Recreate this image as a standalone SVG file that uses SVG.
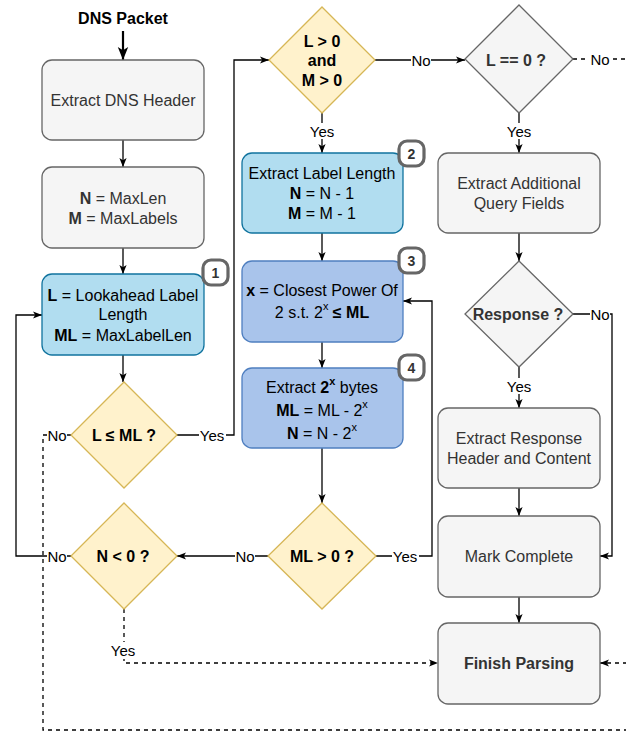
<svg xmlns="http://www.w3.org/2000/svg" width="626" height="734" viewBox="0 0 626 734">
<style>
text{font-family:"Liberation Sans",Arial,Helvetica,sans-serif;font-size:16px;text-anchor:middle;dominant-baseline:central}
.g{fill:#f5f5f5;stroke:#666;stroke-width:1.3}
.gt{fill:#333}
.y{fill:#fff2cc;stroke:#d6b656;stroke-width:1.3}
.lb{fill:#b1ddf0;stroke:#10739e;stroke-width:1.3}
.db{fill:#a9c4eb;stroke:#4f7fc0;stroke-width:1.3}
.b{font-weight:bold}
.e{fill:none;stroke:#000;stroke-width:1.3}
.d{stroke-dasharray:4 4}
.lab{font-size:15px;fill:#000}
.bg{fill:#fff}
.badge{fill:#fff;stroke:#666;stroke-width:3.2}
.bn{font-size:14px;font-weight:bold;fill:#333}
</style>
<defs>
<marker id="a" viewBox="0 0 10 10" refX="10" refY="5" markerWidth="9" markerHeight="9" markerUnits="userSpaceOnUse" orient="auto"><path d="M0,1 L10,5 L0,9 L2.5,5 z" fill="#000"/></marker>
<marker id="a2" viewBox="0 0 10 10" refX="10" refY="5" markerWidth="13" markerHeight="13" markerUnits="userSpaceOnUse" orient="auto"><path d="M0,1 L10,5 L0,9 L2.5,5 z" fill="#000"/></marker>
</defs>

<text x="123" y="18" class="b">DNS Packet</text>

<g id="connectors">
<path class="e" d="M123,31 V60" style="stroke-width:2.2" marker-end="url(#a2)"/>
<path class="e" d="M123,140 V167" marker-end="url(#a)"/>
<path class="e" d="M123,248 V274" marker-end="url(#a)"/>
<path class="e" d="M123,355 V382" marker-end="url(#a)"/>
<path class="e" d="M177,435 H234 V60 H269" marker-end="url(#a)"/>
<path class="e d" d="M71,435 H43 V730 H640 V663 H600" marker-end="url(#a)"/>
<path class="e" d="M322,113 V153" marker-end="url(#a)"/>
<path class="e" d="M375,60 H465" marker-end="url(#a)"/>
<path class="e d" d="M573,59 H640 V700"/>
<path class="e" d="M519,113 V153" marker-end="url(#a)"/>
<path class="e" d="M322,233 V261" marker-end="url(#a)"/>
<path class="e" d="M322,342 V368" marker-end="url(#a)"/>
<path class="e" d="M322,448 V503" marker-end="url(#a)"/>
<path class="e" d="M376,556 H432 V301 H403" marker-end="url(#a)"/>
<path class="e" d="M268,556 H177" marker-end="url(#a)"/>
<path class="e" d="M71,556 H16 V315 H42" marker-end="url(#a)"/>
<path class="e d" d="M124,609 V663 H438" marker-end="url(#a)"/>
<path class="e" d="M519,233 V261" marker-end="url(#a)"/>
<path class="e" d="M573,314 H612 V556 H600" marker-end="url(#a)"/>
<path class="e" d="M519,367 V408" marker-end="url(#a)"/>
<path class="e" d="M519,488 V516" marker-end="url(#a)"/>
<path class="e" d="M519,597 V623" marker-end="url(#a)"/>
<g id="edge-labels">
<rect class="bg" x="199" y="427" width="27" height="16"/><text class="lab" x="212" y="435">Yes</text>
<rect class="bg" x="47" y="427" width="20" height="16"/><text class="lab" x="57" y="435">No</text>
<rect class="bg" x="308" y="123" width="28" height="16"/><text class="lab" x="322" y="131">Yes</text>
<rect class="bg" x="411" y="52" width="20" height="16"/><text class="lab" x="421" y="60">No</text>
<rect class="bg" x="589" y="51" width="22" height="16"/><text class="lab" x="600" y="59">No</text>
<rect class="bg" x="505" y="123" width="28" height="16"/><text class="lab" x="519" y="131">Yes</text>
<rect class="bg" x="392" y="548" width="27" height="16"/><text class="lab" x="405" y="556">Yes</text>
<rect class="bg" x="235" y="548" width="20" height="16"/><text class="lab" x="245" y="556">No</text>
<rect class="bg" x="47" y="548" width="20" height="16"/><text class="lab" x="57" y="556">No</text>
<rect class="bg" x="109" y="642" width="28" height="17"/><text class="lab" x="123" y="650">Yes</text>
<rect class="bg" x="590" y="306" width="20" height="16"/><text class="lab" x="600" y="314">No</text>
<rect class="bg" x="505" y="378" width="28" height="16"/><text class="lab" x="519" y="386">Yes</text>
</g>
</g>

<g id="extract-dns-header"><rect class="g" x="42" y="60" width="162" height="80" rx="10"/><text class="gt" x="123" y="100">Extract DNS Header</text></g>
<g id="init-nm"><rect class="g" x="42" y="167" width="162" height="81" rx="10"/>
<text class="gt" x="123" y="198"><tspan class="b">N</tspan> = MaxLen</text>
<text class="gt" x="123" y="218"><tspan class="b">M</tspan> = MaxLabels</text></g>
<g id="lookahead"><rect class="lb" x="42" y="274" width="162" height="81" rx="10"/>
<text x="123" y="295"><tspan class="b">L</tspan> = Lookahead Label</text>
<text x="123" y="314">Length</text>
<text x="123" y="335"><tspan class="b">ML</tspan> = MaxLabelLen</text></g>
<g id="badge1"><rect class="badge" x="203" y="260" width="25" height="25" rx="8"/><text class="bn" x="215.5" y="272.5">1</text></g>

<g id="l-le-ml"><polygon class="y" points="124,382 177,435 124,488 71,435"/><text class="b" x="124" y="435">L ≤ ML ?</text></g>
<g id="n-lt-0"><polygon class="y" points="124,503 177,556 124,609 71,556"/><text class="b" x="123" y="556">N &lt; 0 ?</text></g>

<g id="l-m-gt-0"><polygon class="y" points="322,7 375,60 322,113 269,60"/>
<text class="b" x="322" y="41">L &gt; 0</text><text class="b" x="322" y="60">and</text><text class="b" x="322" y="80">M &gt; 0</text></g>
<g id="extract-label-length"><rect class="lb" x="242" y="153" width="161" height="80" rx="10"/>
<text x="322" y="173">Extract Label Length</text>
<text x="322" y="193"><tspan class="b">N</tspan> = N - 1</text>
<text x="322" y="213"><tspan class="b">M</tspan> = M - 1</text></g>
<g id="badge2"><rect class="badge" x="399" y="141" width="25" height="25" rx="8"/><text class="bn" x="411.5" y="153.5">2</text></g>
<g id="closest-power"><rect class="db" x="242" y="261" width="161" height="81" rx="10"/>
<text x="322" y="290"><tspan class="b">x</tspan> = Closest Power Of</text>
<text x="322" y="312">2 s.t. 2<tspan dy="-6" font-size="11">x</tspan><tspan dy="6"> </tspan><tspan class="b">≤ ML</tspan></text></g>
<g id="badge3"><rect class="badge" x="399" y="248" width="25" height="25" rx="8"/><text class="bn" x="411.5" y="260.5">3</text></g>
<g id="extract-bytes"><rect class="db" x="242" y="368" width="161" height="80" rx="10"/>
<text x="322" y="387">Extract <tspan class="b">2</tspan><tspan class="b" dy="-6" font-size="11">x</tspan><tspan dy="6"> bytes</tspan></text>
<text x="322" y="410"><tspan class="b">ML</tspan> = ML - 2<tspan dy="-6" font-size="11">x</tspan></text>
<text x="322" y="433"><tspan class="b">N</tspan> = N - 2<tspan dy="-6" font-size="11">x</tspan></text></g>
<g id="badge4"><rect class="badge" x="399" y="355" width="25" height="25" rx="8"/><text class="bn" x="411.5" y="367.5">4</text></g>
<g id="ml-gt-0"><polygon class="y" points="322,503 376,556 322,609 268,556"/><text class="b" x="322" y="556">ML &gt; 0 ?</text></g>

<g id="l-eq-0"><polygon class="g" points="519,5 573,59 519,113 465,59"/><text class="b gt" x="516" y="60">L == 0 ?</text></g>
<g id="extract-additional"><rect class="g" x="438" y="153" width="162" height="80" rx="10"/>
<text class="gt" x="519" y="183">Extract Additional</text><text class="gt" x="519" y="203">Query Fields</text></g>
<g id="response"><polygon class="g" points="519,261 573,314 519,367 465,314"/><text class="b gt" x="518" y="314" font-size="14">Response ?</text></g>
<g id="extract-response"><rect class="g" x="438" y="408" width="162" height="80" rx="10"/>
<text class="gt" x="519" y="438">Extract Response</text><text class="gt" x="519" y="458">Header and Content</text></g>
<g id="mark-complete"><rect class="g" x="438" y="516" width="162" height="81" rx="10"/><text class="gt" x="519" y="556">Mark Complete</text></g>
<g id="finish-parsing"><rect class="g" x="438" y="623" width="162" height="81" rx="10"/><text class="b gt" x="519" y="663">Finish Parsing</text></g>
</svg>
